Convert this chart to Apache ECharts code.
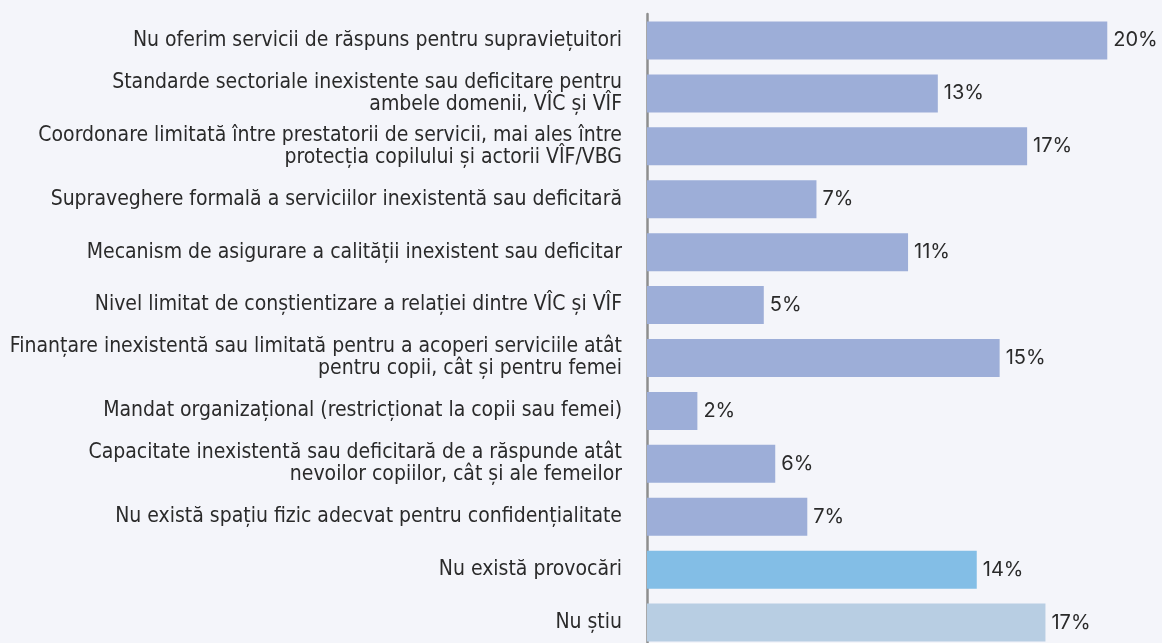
<!DOCTYPE html>
<html>
<head>
<meta charset="utf-8">
<script src="https://cdn.jsdelivr.net/npm/echarts@6/dist/echarts.min.js"></script>
<style>
html,body{margin:0;padding:0;background:#F4F5FA;overflow:hidden;width:1162px;height:643px;}
#chart{width:1162px;height:652px;}
</style>
</head>
<body>
<div id="chart"></div>
<script>
const categories = [
  "Nu oferim servicii de răspuns pentru supraviețuitori",
  "Standarde sectoriale inexistente sau deficitare pentru\nambele domenii, VÎC și VÎF",
  "Coordonare limitată între prestatorii de servicii, mai ales între\nprotecția copilului și actorii VÎF/VBG",
  "Supraveghere formală a serviciilor inexistentă sau deficitară",
  "Mecanism de asigurare a calității inexistent sau deficitar",
  "Nivel limitat de conștientizare a relației dintre VÎC și VÎF",
  "Finanțare inexistentă sau limitată pentru a acoperi serviciile atât\npentru copii, cât și pentru femei",
  "Mandat organizațional (restricționat la copii sau femei)",
  "Capacitate inexistentă sau deficitară de a răspunde atât\nnevoilor copiilor, cât și ale femeilor",
  "Nu există spațiu fizic adecvat pentru confidențialitate",
  "Nu există provocări",
  "Nu știu"
];
const values = [20.1, 12.7, 16.6, 7.4, 11.4, 5.1, 15.4, 2.2, 5.6, 7.0, 14.4, 17.4];
const labels = ["20%", "13%", "17%", "7%", "11%", "5%", "15%", "2%", "6%", "7%", "14%", "17%"];
const barColors = ["#9DAED8", "#9DAED8", "#9DAED8", "#9DAED8", "#9DAED8", "#9DAED8", "#9DAED8", "#9DAED8", "#9DAED8", "#9DAED8", "#83BEE6", "#B8CEE3"];

const chart = echarts.init(document.getElementById('chart'));
chart.setOption({
  backgroundColor: '#F4F5FA',
  animation: false,
  grid: { left: 647, right: 0, top: 14, height: 635, containLabel: false },
  xAxis: {
    type: 'value', min: 0, max: 22.49,
    show: false
  },
  yAxis: {
    type: 'category',
    inverse: true,
    data: categories,
    axisLine: { show: true, lineStyle: { color: '#8E8E8E', width: 2.5 } },
    axisTick: { show: false },
    axisLabel: {
      margin: 25,
      color: '#2A2A2A',
      fontFamily: 'DejaVu Sans Condensed, sans-serif',
      fontSize: 21,
      lineHeight: 22,
      align: 'right',
      padding: [3, 0, 0, 0]
    }
  },
  series: [{
    type: 'bar',
    barWidth: 38,
    data: values.map((v, i) => ({ value: v, itemStyle: { color: barColors[i] } })),
    label: {
      show: true,
      position: 'right',
      distance: 6,
      color: '#2A2A2A',
      fontFamily: 'Inter, Noto Sans, sans-serif',
      fontSize: 20,
      formatter: p => labels[p.dataIndex]
    }
  }]
});
</script>
</body>
</html>
